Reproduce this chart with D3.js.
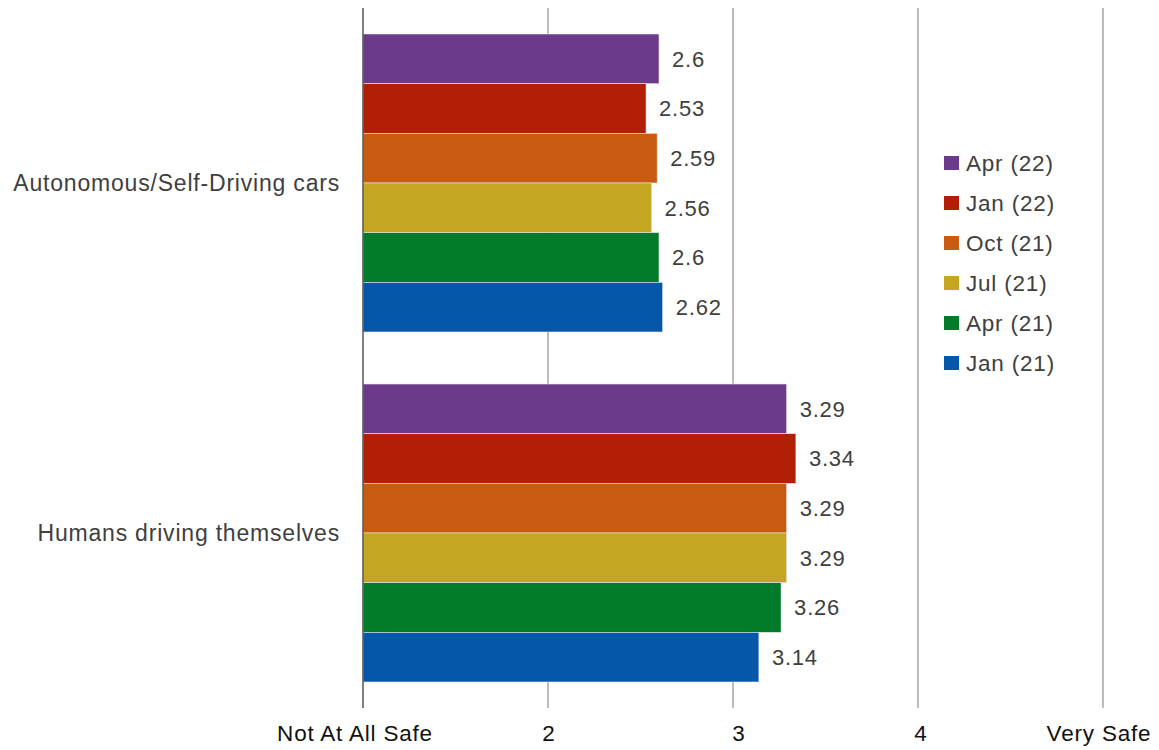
<!DOCTYPE html>
<html><head><meta charset="utf-8">
<script src="https://cdn.jsdelivr.net/npm/d3@7"></script>
<style>body{margin:0;background:#fff;}svg{display:block;font-family:"Liberation Sans",Arial,sans-serif;}text{letter-spacing:0.8px;}</style>
</head><body><svg id="c" width="1159" height="750"></svg>
<script>
const categories = ["Autonomous/Self-Driving cars", "Humans driving themselves"];
const series = ["Apr (22)", "Jan (22)", "Oct (21)", "Jul (21)", "Apr (21)", "Jan (21)"];
const colors = ["#6B3A8A", "#B11F06", "#C75B12", "#C4A622", "#037B2B", "#0558A9"];
const autonomous = [2.6, 2.53, 2.59, 2.56, 2.6, 2.62];
const humans = [3.29, 3.34, 3.29, 3.29, 3.26, 3.14];
const tickValues = [1, 2, 3, 4, 5];
const tickLabels = ["Not At All Safe", "2", "3", "4", "Very Safe"];
const values = [autonomous, humans];

const svg = d3.select("#c");
const x = d3.scaleLinear().domain([1, 5]).range([363, 1103]);
const y0 = d3.scaleBand().domain(categories).range([8, 708]).paddingInner(0.1486).paddingOuter(0.0743);
const y1 = d3.scaleBand().domain(series).range([0, y0.bandwidth()]);
const FS = 22.5;

// gridlines
svg.append("g").selectAll("line").data(tickValues.slice(1)).join("line")
  .attr("x1", d => x(d)).attr("x2", d => x(d)).attr("y1", 8).attr("y2", 708)
  .attr("stroke", "#a6a6a6").attr("stroke-width", 1.5);

const groups = svg.append("g").selectAll("g").data(categories).join("g")
  .attr("transform", d => `translate(0,${y0(d)})`);
groups.selectAll("rect").data((c, i) => series.map((s, j) => ({s, j, v: values[i][j]}))).join("rect")
  .attr("x", x(1)).attr("y", d => y1(d.s)).attr("width", d => x(d.v) - x(1)).attr("height", y1.bandwidth())
  .attr("fill", d => colors[d.j]).attr("stroke", "#e8e8e8").attr("stroke-width", 0.6);
groups.selectAll("text").data((c, i) => series.map((s, j) => ({s, j, v: values[i][j]}))).join("text")
  .attr("x", d => x(d.v) + 13).attr("y", d => y1(d.s) + y1.bandwidth() / 2).attr("dy", "0.35em")
  .attr("font-size", 22).attr("fill", "#404040").text(d => d.v);

// axis line
svg.append("line").attr("x1", x(1)).attr("x2", x(1)).attr("y1", 8).attr("y2", 708)
  .attr("stroke", "#555").attr("stroke-width", 1.5);

// category labels
svg.append("g").selectAll("text").data(categories).join("text")
  .attr("x", 340).attr("y", d => y0(d) + y0.bandwidth() / 2).attr("dy", "0.35em")
  .attr("text-anchor", "end").attr("font-size", 23).attr("fill", "#404040").text(d => d);

// tick labels
const tickOffsets = [-8, 1, 6, 3, -4];
svg.append("g").selectAll("text").data(tickValues).join("text")
  .attr("x", (d, i) => x(d) + tickOffsets[i]).attr("y", 741)
  .attr("text-anchor", "middle").attr("font-size", FS).attr("fill", "#111").text((d, i) => tickLabels[i]);

// legend
const lg = svg.append("g").selectAll("g").data(series).join("g")
  .attr("transform", (d, i) => `translate(944,${163 + i * 40})`);
lg.append("rect").attr("x", 0).attr("y", -7).attr("width", 15).attr("height", 14).attr("fill", (d, i) => colors[i]);
lg.append("text").attr("x", 22).attr("y", 0).attr("dy", "0.35em").attr("font-size", FS).attr("fill", "#404040").text(d => d);
</script></body></html>
